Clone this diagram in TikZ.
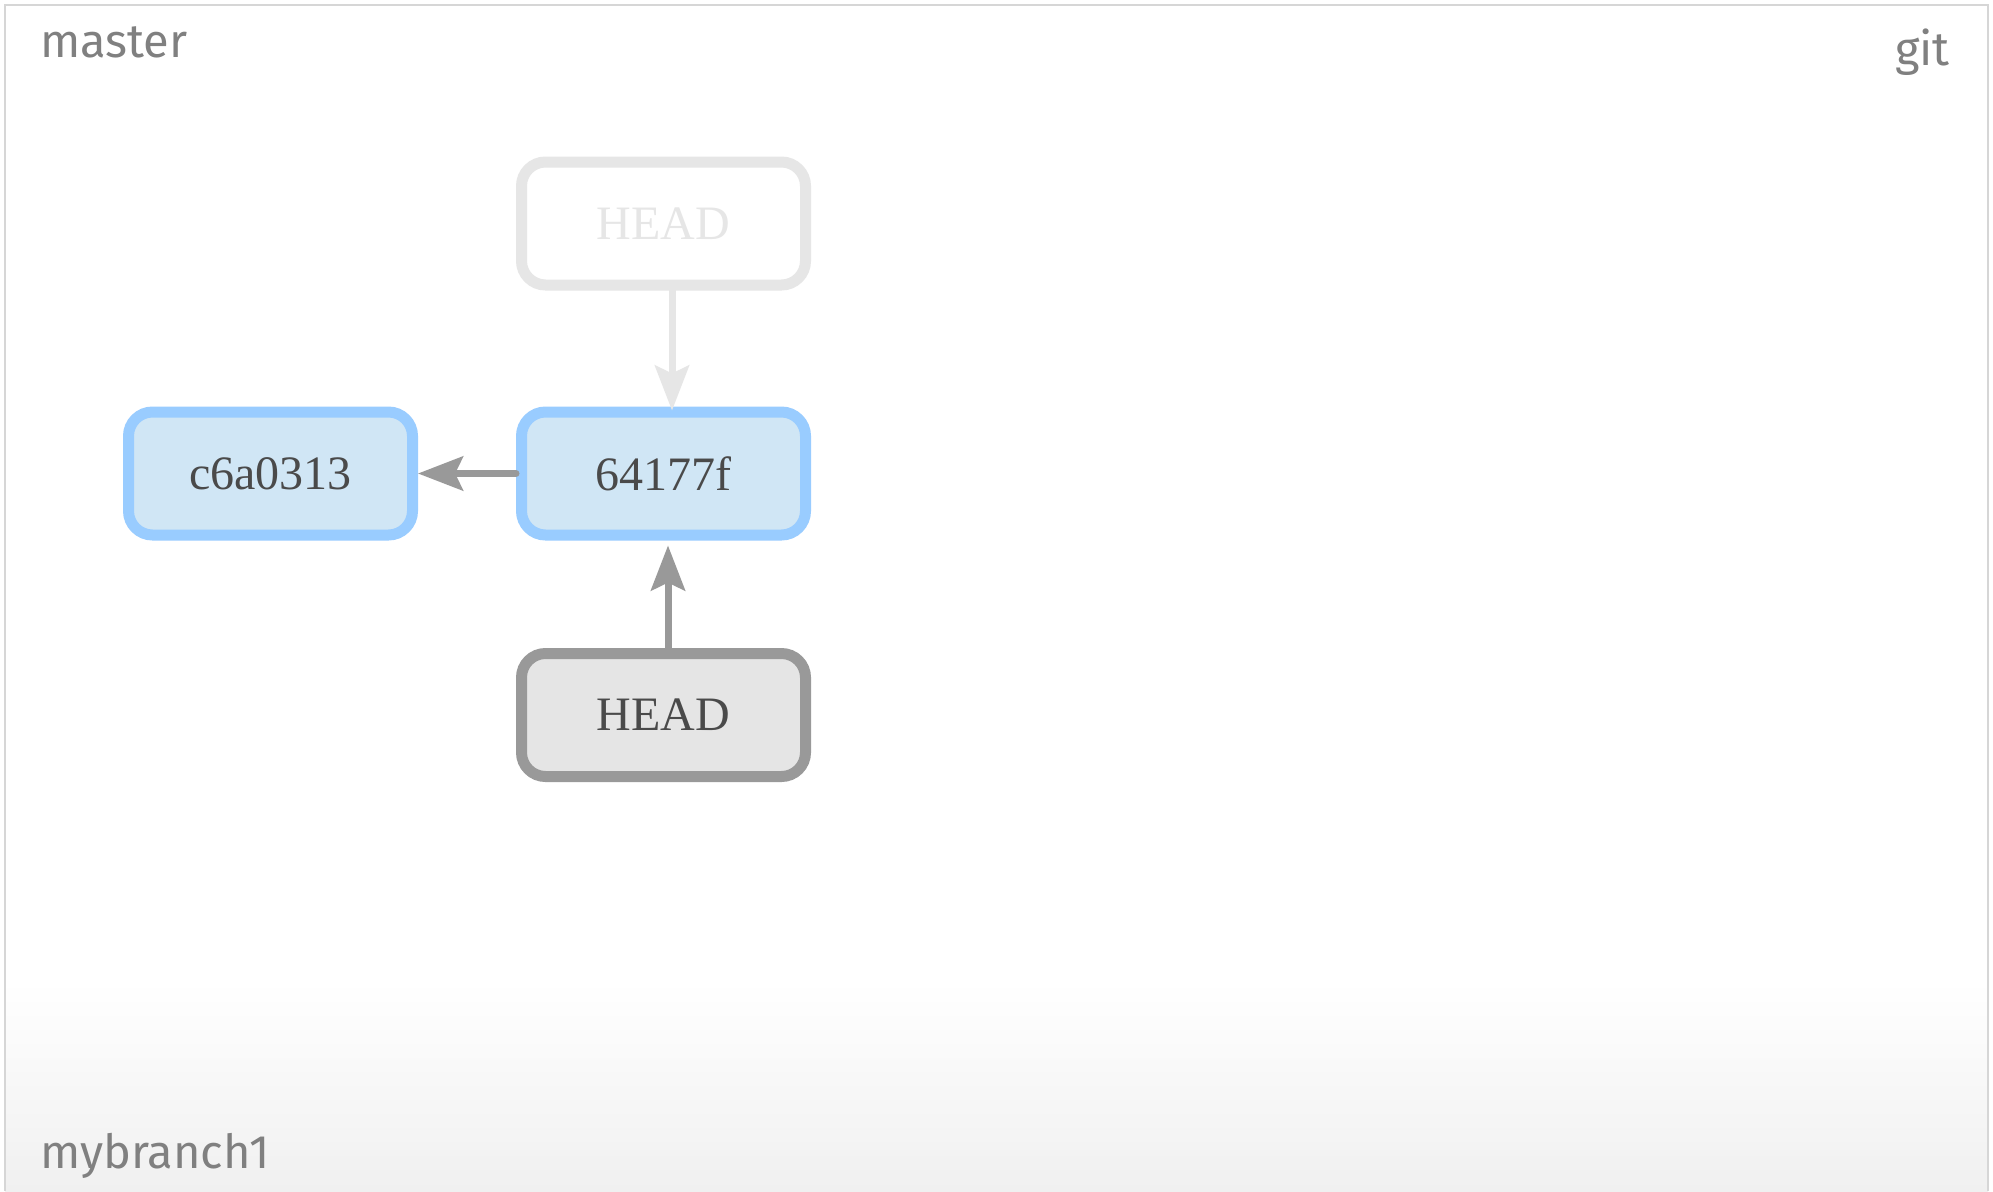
\documentclass[tikz,border=0pt]{standalone}
\usepackage{fontspec}
\setmainfont{Liberation Serif}
\newfontfamily\labelfont{Fira Sans}
\usetikzlibrary{arrows.meta}
\definecolor{framegray}{HTML}{D6D6D6}
\definecolor{bottomgray}{HTML}{F0F0F0}
\definecolor{labelgray}{HTML}{808080}
\definecolor{bluestroke}{HTML}{99CCFF}
\definecolor{bluefill}{HTML}{D0E6F5}
\definecolor{graystroke}{HTML}{999999}
\definecolor{grayfill}{HTML}{E5E5E5}
\definecolor{fadegray}{HTML}{E6E6E6}
\definecolor{nodetext}{HTML}{4A4A4A}
\tikzset{
  lbl/.style={text=labelgray, font=\labelfont\fontsize{47}{50}\selectfont, inner sep=0pt},
  box/.style={line width=11pt, rounded corners=24pt, minimum width=284pt, minimum height=123pt,
    inner sep=0pt, font=\fontsize{48}{50}\selectfont},
  commitbox/.style={box, draw=bluestroke, fill=bluefill, text=nodetext},
  headbox/.style={box, draw=graystroke, fill=grayfill, text=nodetext},
  oldbox/.style={box, draw=fadegray, fill=white, text=fadegray},
  arr/.style={line width=7pt, line cap=round, -{Stealth[length=45pt,width=34pt,inset=8pt]}},
}
\begin{document}
\begin{tikzpicture}[x=1pt,y=-1pt]
\useasboundingbox (0,0) rectangle (1993,1191);
\fill[white] (0,0) rectangle (1993,1191);
\shade[top color=white, bottom color=bottomgray] (5,980) rectangle (1988,1191);
\draw[framegray, line width=2pt] (5,1191) -- (5,5) -- (1988,5) -- (1988,1191);

\node[lbl, anchor=base west] (master) at (40,57) {master};
\node[lbl, anchor=base east] (git) at (1950,65) {git};
\node[lbl, anchor=base west] (mybranch) at (40,1168) {mybranch1};

\node[commitbox] (c1) at (270.5,473.5) {c6a0313};
\node[commitbox] (c2) at (663.5,473.5) {64177f};
\node[oldbox] (oldhead) at (663.5,223.5) {HEAD};
\node[headbox] (head) at (663.5,715) {HEAD};

\draw[arr, draw=fadegray, fill=fadegray, shorten >=-4pt] ([xshift=8.5pt]oldhead.south) -- ([xshift=8.5pt]c2.north);
\draw[arr, draw=graystroke, fill=graystroke] (c2.west) -- (c1.east);
\draw[arr, draw=graystroke, fill=graystroke, shorten >=5pt] ([xshift=4.5pt]head.north) -- ([xshift=4.5pt]c2.south);
\end{tikzpicture}
\end{document}
